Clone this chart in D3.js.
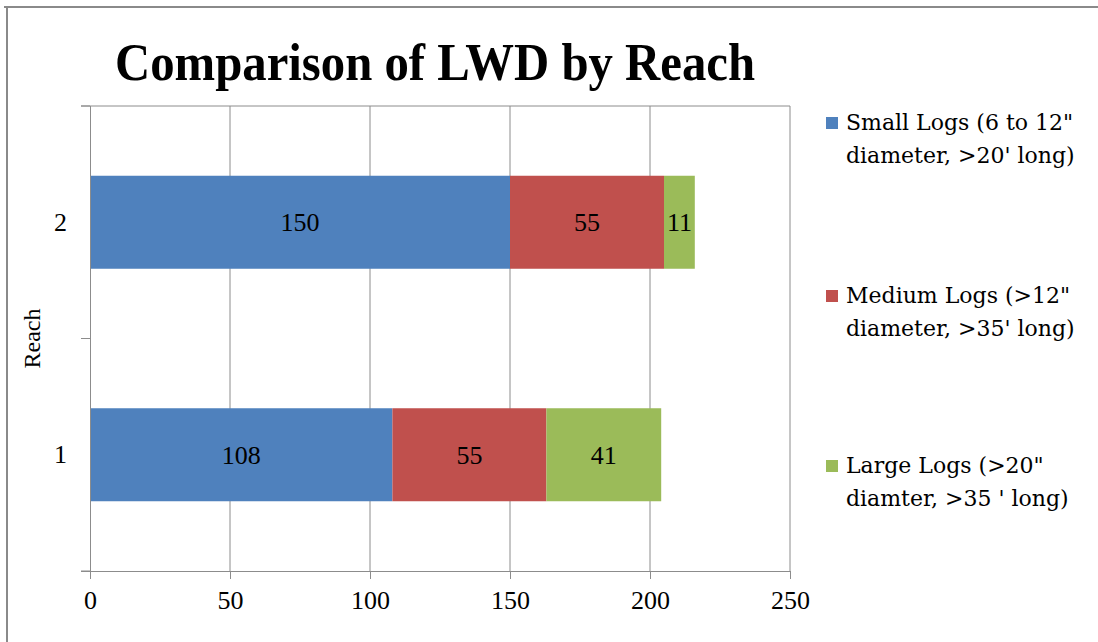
<!DOCTYPE html>
<html><head><meta charset="utf-8">
<script src="https://cdn.jsdelivr.net/npm/d3@7"></script>
<style>html,body{margin:0;padding:0;background:#fff;}svg{display:block;}</style>
</head><body>
<svg id="c" width="1098" height="642"></svg>
<script>
const categories = ["2", "1"];
const seriesNames = ["Small Logs (6 to 12\"|diameter, >20' long)", "Medium Logs (>12\"|diameter, >35' long)", "Large Logs (>20\"|diamter, >35 ' long)"];
const smallLogs = [150, 108];
const mediumLogs = [55, 55];
const largeLogs = [11, 41];
const xTicks = [0, 50, 100, 150, 200, 250];
const colors = ["#4F81BD", "#C0504D", "#9BBB59"];

const svg = d3.select("#c");
const serif = "'Liberation Serif', 'Times New Roman', serif";
const pL = 90, pR = 790, pT = 106, pB = 571;

// frame
svg.append("line").attr("x1", 4).attr("x2", 1098).attr("y1", 7).attr("y2", 7).attr("stroke", "#8a8a8a").attr("stroke-width", 2);
svg.append("line").attr("x1", 7).attr("x2", 7).attr("y1", 6).attr("y2", 642).attr("stroke", "#8a8a8a").attr("stroke-width", 2);

// title
svg.append("text").attr("x", 115).attr("y", 80).attr("textLength", 640).attr("lengthAdjust", "spacingAndGlyphs")
  .attr("font-family", serif).attr("font-weight", "bold").attr("font-size", 53).attr("fill", "#000")
  .text("Comparison of LWD by Reach");

const x = d3.scaleLinear().domain([0, 250]).range([pL, pR]);
const y = d3.scaleBand().domain(categories).range([pT, pB]).padding(0);

// gridlines
svg.append("g").selectAll("line").data(xTicks.slice(1)).join("line")
  .attr("x1", d => x(d)).attr("x2", d => x(d)).attr("y1", pT).attr("y2", pB)
  .attr("stroke", "#8c8c8c").attr("stroke-width", 1);
svg.append("line").attr("x1", pL - 9).attr("x2", pR).attr("y1", pT).attr("y2", pT).attr("stroke", "#8c8c8c");

// stacked bars
const rows = categories.map((c, i) => ({cat: c, s: smallLogs[i], m: mediumLogs[i], l: largeLogs[i]}));
const stack = d3.stack().keys(["s", "m", "l"])(rows);
const barH = y.bandwidth() * 0.4;
stack.forEach((layer, k) => {
  const g = svg.append("g");
  g.selectAll("rect").data(layer).join("rect")
    .attr("x", d => x(d[0])).attr("width", d => x(d[1]) - x(d[0]))
    .attr("y", d => y(d.data.cat) + (y.bandwidth() - barH) / 2).attr("height", barH)
    .attr("fill", colors[k]);
  g.selectAll("text").data(layer).join("text")
    .attr("x", d => (x(d[0]) + x(d[1])) / 2).attr("y", d => y(d.data.cat) + y.bandwidth() / 2 + 9)
    .attr("text-anchor", "middle").attr("font-family", serif).attr("font-size", 26).attr("fill", "#000")
    .text(d => d[1] - d[0]);
});

// axes
const xAxis = svg.append("g").attr("transform", `translate(0,${pB})`)
  .call(d3.axisBottom(x).tickValues(xTicks).tickSize(8).tickPadding(12));
xAxis.select(".domain").attr("stroke", "#8c8c8c").attr("d", `M${pL - 9},0.5H${pR}`);
xAxis.selectAll(".tick line").attr("stroke", "#8c8c8c");
xAxis.selectAll("text").attr("font-family", serif).attr("font-size", 26).attr("fill", "#000");

const yAxis = svg.append("g").attr("transform", `translate(${pL},0)`)
  .call(d3.axisLeft(y).tickSize(0).tickPadding(23));
yAxis.select(".domain").attr("stroke", "#8c8c8c").attr("d", `M0.5,${pT}V${pB + 8}`);
yAxis.selectAll("text").attr("font-family", serif).attr("font-size", 26).attr("fill", "#000");
// category boundary ticks
svg.append("g").selectAll("line").data([pT, pT + y.step(), pB]).join("line")
  .attr("x1", pL - 9).attr("x2", pL).attr("y1", d => d).attr("y2", d => d).attr("stroke", "#8c8c8c");

svg.append("text").attr("transform", `translate(40,${(pT + pB) / 2}) rotate(-90)`)
  .attr("text-anchor", "middle").attr("font-family", serif).attr("font-size", 24).attr("fill", "#000").text("Reach");

// legend
const legY = [130, 303, 473];
const leg = svg.append("g");
seriesNames.forEach((n, i) => {
  leg.append("rect").attr("x", 826).attr("y", legY[i] - 13).attr("width", 12).attr("height", 12).attr("fill", colors[i]);
  n.split("|").forEach((line, j) => {
    leg.append("text").attr("x", 846).attr("y", legY[i] + j * 33)
      .attr("font-family", "'DejaVu Serif', serif").attr("font-size", 22).attr("fill", "#000").text(line);
  });
});
</script>
</body></html>
